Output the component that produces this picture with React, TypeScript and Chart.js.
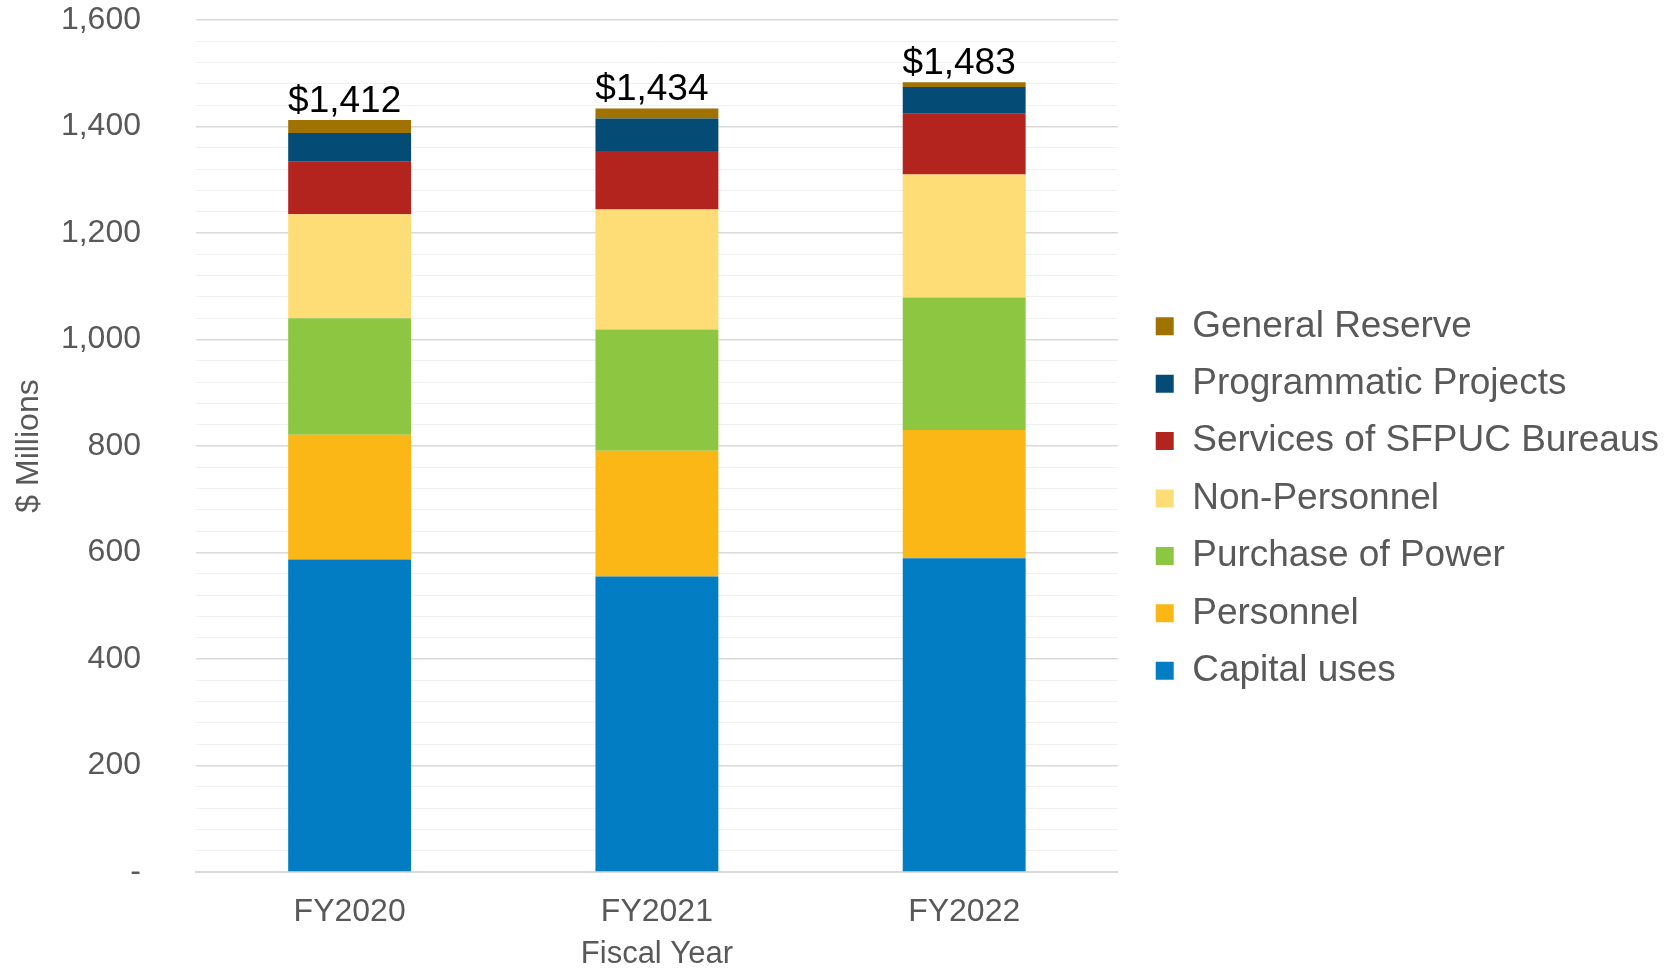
import React, { useEffect, useRef } from "react";
import { Chart, registerables } from "chart.js";

Chart.register(...registerables);

const categories = ["FY2020", "FY2021", "FY2022"];
const capitalUses = [587, 555, 589];
const personnel = [234, 236, 241];
const purchaseOfPower = [219, 228, 249];
const nonPersonnel = [195, 225, 231];
const servicesOfSFPUCBureaus = [99, 110, 114];
const programmaticProjects = [54, 61, 50];
const generalReserve = [24, 19, 9];

const seriesNames = [
  "Capital uses",
  "Personnel",
  "Purchase of Power",
  "Non-Personnel",
  "Services of SFPUC Bureaus",
  "Programmatic Projects",
  "General Reserve",
];
const seriesValues = [
  capitalUses,
  personnel,
  purchaseOfPower,
  nonPersonnel,
  servicesOfSFPUCBureaus,
  programmaticProjects,
  generalReserve,
];
const seriesColors = [
  "#027DC3",
  "#FBB715",
  "#8DC641",
  "#FFDD76",
  "#B3241F",
  "#044B75",
  "#A07200",
];

const yMin = 0;
const yMax = 1600;
const yStep = 40;
const yMajorStep = 200;

const FONT = "'Liberation Sans', Arial, sans-serif";
const TEXT_GRAY = "#595959";

const totalsPlugin = {
  id: "totalsLabels",
  afterDatasetsDraw(chart: any) {
    const ctx = chart.ctx;
    const yScale = chart.scales.y;
    const lastMeta = chart.getDatasetMeta(chart.data.datasets.length - 1);
    ctx.save();
    ctx.font = `37px ${FONT}`;
    ctx.fillStyle = "#000000";
    ctx.textAlign = "center";
    ctx.textBaseline = "alphabetic";
    categories.forEach((_, i) => {
      const total = seriesValues.reduce((s, arr) => s + arr[i], 0);
      const x = lastMeta.data[i].x - 5;
      const y = yScale.getPixelForValue(total);
      ctx.fillText("$" + total.toLocaleString("en-US"), x, y - 8);
    });
    ctx.restore();
  },
};

export default function App() {
  const canvasRef = useRef<HTMLCanvasElement | null>(null);

  useEffect(() => {
    if (!canvasRef.current) return;
    Chart.defaults.font.family = FONT;
    const chart = new Chart(canvasRef.current, {
      type: "bar",
      data: {
        labels: categories,
        datasets: seriesNames.map((name, i) => ({
          label: name,
          data: seriesValues[i],
          backgroundColor: seriesColors[i],
          borderWidth: 0,
          barPercentage: 0.4,
          categoryPercentage: 1.0,
        })),
      },
      options: {
        responsive: false,
        animation: false,
        layout: { padding: { top: 20, right: 10, bottom: -9, left: 0 } },
        plugins: {
          tooltip: { enabled: false },
          legend: {
            display: true,
            position: "right",
            reverse: true,
            maxWidth: 700,
            labels: {
              boxWidth: 18,
              boxHeight: 18,
              padding: 20.4,
              color: TEXT_GRAY,
              font: { size: 37, family: FONT },
            },
          },
        },
        scales: {
          x: {
            stacked: true,
            grid: { display: false, drawTicks: false },
            border: { display: true, color: "#D9D9D9", width: 2 },
            ticks: {
              color: TEXT_GRAY,
              font: { size: 32, family: FONT },
              padding: 21,
            },
            title: {
              display: true,
              text: "Fiscal Year",
              color: TEXT_GRAY,
              font: { size: 31, family: FONT },
              padding: { top: 0, bottom: 4 },
            },
            afterFit(scale: any) {
              scale.height = 105;
            },
          },
          y: {
            stacked: true,
            min: yMin,
            max: yMax,
            border: { display: false },
            grid: {
              drawTicks: true,
              tickLength: 55,
              tickColor: "rgba(0,0,0,0)",
              color: (c: any) =>
                c.tick && c.tick.value % yMajorStep === 0 ? "#D9D9D9" : "#F0F0F0",
              lineWidth: (c: any) =>
                c.tick && c.tick.value % yMajorStep === 0 ? 1.5 : 1,
            },
            ticks: {
              stepSize: yStep,
              autoSkip: false,
              color: TEXT_GRAY,
              font: { size: 32, family: FONT },
              padding: 0,
              callback: (v: any) => {
                const n = Number(v);
                if (n % yMajorStep !== 0) return "";
                return n === 0 ? "-" : n.toLocaleString("en-US");
              },
            },
            title: {
              display: true,
              text: "$ Millions",
              color: TEXT_GRAY,
              font: { size: 32, family: FONT },
              padding: { top: 10, bottom: 0 },
            },
            afterFit(scale: any) {
              scale.width = 196;
            },
          },
          spacer: {
            type: "linear",
            position: "right",
            display: true,
            grid: { display: false, drawTicks: false },
            border: { display: false },
            ticks: { display: false },
            afterFit(scale: any) {
              scale.width = 17.5;
            },
          },
        },
      },
      plugins: [totalsPlugin],
    } as any);
    return () => chart.destroy();
  }, []);

  return (
    <div style={{ position: "fixed", left: 0, top: 0, width: 1679, height: 968, background: "#fff" }}>
      <canvas ref={canvasRef} width={1679} height={968} style={{ display: "block" }} />
    </div>
  );
}
